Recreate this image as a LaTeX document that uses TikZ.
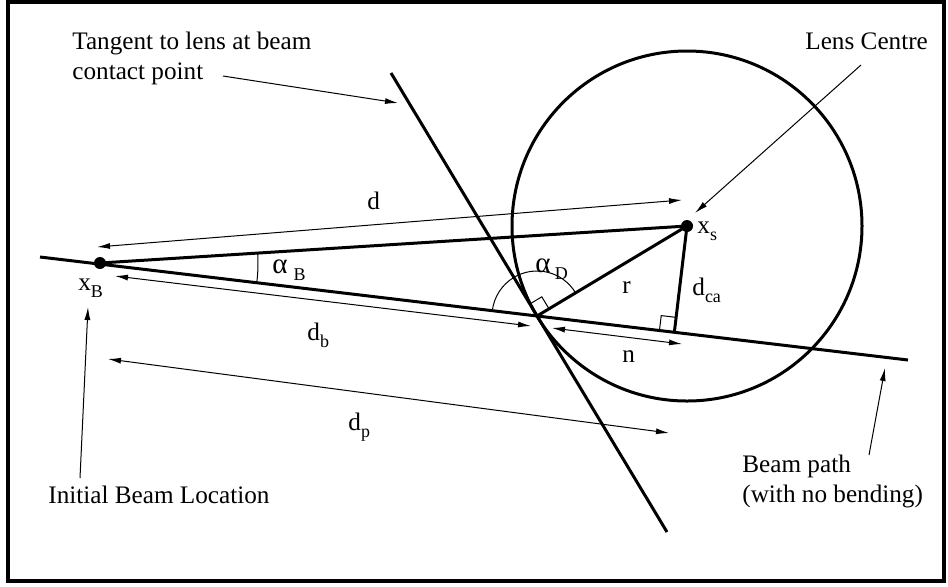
\documentclass[tikz,border=0pt]{standalone}
\usepackage{fontspec}
\setmainfont{Liberation Serif}
\usepackage{tikz}
\usetikzlibrary{arrows.meta,calc}
\tikzstyle{Tline} = [line width=1.5pt]
\tikzstyle{Tthin} = [line width=0.5pt]
\tikzstyle{Tdim}  = [Tthin, <->]
\tikzstyle{Tcall} = [Tthin, ->]
\tikzstyle{Tlbl}  = [inner sep=0pt, anchor=base west,
                     font=\fontsize{12.6}{15}\selectfont]
\tikzstyle{Tnote} = [Tlbl, anchor=north west, align=left]
\newcommand{\lsub}[1]{\raisebox{-3.5pt}{\fontsize{9}{9}\selectfont #1}}
\newcommand{\lalpha}{{\fontsize{14.5}{15}\selectfont α}}

\begin{document}
\begin{tikzpicture}[x=0.5pt, y=-0.5pt, >={Latex[length=6.5pt,width=3pt]}]
  \useasboundingbox (0,0) rectangle (948,586);
  \draw[line width=2.2pt] (8,2) rectangle (944,581);

  % geometry
  \coordinate (xB) at (100,263);
  \coordinate (xs) at (687,226);
  \coordinate (C)  at (537,316);
  \coordinate (bL) at (40,257);
  \coordinate (bR) at (908,360);
  \coordinate (tT) at (391,73);
  \coordinate (tB) at (667,532);
  \coordinate (F)  at ($(bL)!(xs)!(bR)$);

  \draw[Tline] (xs) circle[radius=175];
  \draw[Tline] (bL) -- (bR);
  \draw[Tline] (tT) -- (tB);
  \draw[Tline] (xB) -- (xs) -- (C);
  \draw[Tline] (xs) -- (F);
  \fill (xB) circle[radius=3pt];
  \fill (xs) circle[radius=3pt];

  % angles
  \draw[Tthin] ($(xB)+(6.77:158)$) arc[start angle=6.77, end angle=-3.61, radius=158];
  \draw[Tthin] ($(C)+(-31:45)$) arc[start angle=-31, end angle=-173.2, radius=45];
  \coordinate (ca) at ($(C)!7pt!(tT)$);
  \coordinate (cb) at ($(C)!7pt!(xs)$);
  \draw[Tthin] (ca) -- ($(ca)+(cb)-(C)$) -- (cb);
  \coordinate (fa) at ($(F)!7.5pt!(bL)$);
  \coordinate (fb) at ($(F)!7.5pt!(xs)$);
  \draw[Tthin] (fa) -- ($(fa)+(fb)-(F)$) -- (fb);

  % dimensions
  \coordinate (dL)  at (97,247);  \coordinate (dR)  at (682,200);
  \coordinate (dbL) at (115,276); \coordinate (dbR) at (531,326);
  \coordinate (dpL) at (108,359); \coordinate (dpR) at (669,433);
  \coordinate (nL)  at (552,328); \coordinate (nR)  at (682,344);
  \draw[Tdim] (dL) -- (dR);
  \draw[Tdim] (dbL) -- (dbR);
  \draw[Tdim] (dpL) -- (dpR);
  \draw[Tdim] (nL) -- (nR);

  \node[Tlbl] (lbd)   at (367,209) {d};
  \node[Tlbl] (lbdb)  at (307,340) {d\lsub{b}};
  \node[Tlbl] (lbdp)  at (348,430) {d\lsub{p}};
  \node[Tlbl] (lbr)   at (622,293) {r};
  \node[Tlbl] (lbn)   at (622,362) {n};
  \node[Tlbl] (lbdca) at (692,295) {d\lsub{ca}};
  \node[Tlbl] (lbaD)  at (535,272) {\lalpha\,\lsub{D}};
  \node[Tlbl] (lbaB)  at (272,273) {\lalpha\hspace{3pt}\lsub{B}};
  \node[Tlbl] (lbxs)  at (697,233) {x\lsub{s}};
  \node[Tlbl] (lbxB)  at (78,290)  {x\lsub{B}};

  % callouts
  \node[Tnote] (tgnote)   at (72,32)   {Tangent to lens at beam\\contact point};
  \node[Tlbl]  (lensnote) at (805,49)  {Lens Centre};
  \node[Tlbl]  (initnote) at (48,503)  {Initial Beam Location};
  \node[Tnote] (pathnote) at (742,455) {Beam path\\(with no bending)};
  \coordinate (tgA)   at (223,76);  \coordinate (tgB)   at (398,103);
  \coordinate (lensA) at (861,65);  \coordinate (lensB) at (695,213);
  \coordinate (initA) at (80,478);  \coordinate (initB) at (88,307);
  \coordinate (pathA) at (869,455); \coordinate (pathB) at (885,368);
  \draw[Tcall] (tgA) -- (tgB);
  \draw[Tcall] (lensA) -- (lensB);
  \draw[Tcall] (initA) -- (initB);
  \draw[Tcall] (pathA) -- (pathB);
\end{tikzpicture}
\end{document}
